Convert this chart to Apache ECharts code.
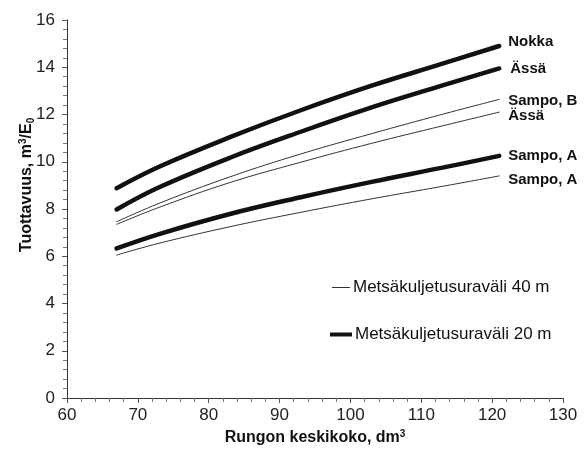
<!DOCTYPE html>
<html>
<head>
<meta charset="utf-8">
<script src="https://cdn.jsdelivr.net/npm/echarts@6/dist/echarts.min.js"></script>
<style>
  html, body { margin: 0; padding: 0; background: #fff; }
  #chart { width: 586px; height: 457px; }
</style>
</head>
<body>
<div id="chart"></div>
<script>
// rungon keskikoko (dm3) and tuottavuus
const xVals = [67, 73, 83, 93, 103, 113, 121];
const nokka20 = [8.88, 9.79, 11.04, 12.18, 13.22, 14.15, 14.9];
const assa20 = [7.98, 8.92, 10.17, 11.27, 12.3, 13.23, 13.95];
const sampoB40 = [7.46, 8.24, 9.36, 10.33, 11.19, 12.01, 12.64];
const assa40 = [7.35, 8.07, 9.12, 9.98, 10.78, 11.52, 12.1];
const sampoA20 = [6.33, 6.94, 7.79, 8.5, 9.15, 9.75, 10.25];
const sampoA40 = [6.05, 6.55, 7.25, 7.86, 8.43, 8.96, 9.4];

const name40 = "Metsäkuljetusuraväli 40 m";
const name20 = "Metsäkuljetusuraväli 20 m";
const fontFam = "Arial, 'Liberation Sans', sans-serif";

function pairs(ys) {
  return xVals.map((x, i) => [x, ys[i]]);
}

function curve(name, ys, label, thick, offset) {
  return {
    name: name,
    type: "line",
    data: pairs(ys),
    smooth: 0.4,
    symbol: "none",
    lineStyle: { color: thick ? "#111" : "#333", width: thick ? 4.5 : 1, cap: "round" },
    itemStyle: { color: thick ? "#111" : "#333" },
    endLabel: {
      show: true,
      formatter: label,
      distance: 9,
      offset: offset,
      color: "#111",
      fontWeight: "bold",
      fontSize: 15,
      fontFamily: fontFam,
    },
    emphasis: { disabled: true },
    z: thick ? 3 : 2,
  };
}

function legendBox(name, left, top, h, w) {
  return {
    orient: "vertical",
    left: left,
    top: top,
    padding: 0,
    icon: "rect",
    itemWidth: w,
    itemHeight: h,
    data: [name],
    textStyle: { fontSize: 17, color: "#111", fontFamily: fontFam, padding: [0, 0, 0, -2] },
  };
}

let myChart = echarts.init(document.getElementById("chart"));
let option = {
  backgroundColor: "#fff",
  animation: false,
  textStyle: { fontFamily: fontFam },
  grid: { left: 67, right: 23, top: 20, bottom: 59 },
  legend: [legendBox(name40, 332, 279, 1, 18), legendBox(name20, 330, 326, 4, 22)],
  xAxis: {
    type: "value",
    min: 60,
    max: 130,
    interval: 10,
    name: "Rungon keskikoko, dm{sup|3}",
    nameLocation: "middle",
    nameGap: 31,
    nameTextStyle: {
      fontSize: 16,
      fontWeight: "bold",
      color: "#111",
      rich: { sup: { fontSize: 10, fontWeight: "bold", verticalAlign: "top", padding: [0, 0, 8, 0] } },
    },
    axisLine: { lineStyle: { color: "#333", width: 1 } },
    axisTick: { show: true, inside: false, length: 5, lineStyle: { color: "#555" } },
    minorTick: { show: true, splitNumber: 5, length: 4, lineStyle: { color: "#777" } },
    axisLabel: { fontSize: 17, color: "#222", margin: 9 },
    splitLine: { show: false },
  },
  yAxis: {
    type: "value",
    min: 0,
    max: 16,
    interval: 2,
    name: "Tuottavuus, m{sup|3}/E{sub|0}",
    nameLocation: "middle",
    nameGap: 31,
    nameMoveOverlap: false,
    nameTextStyle: {
      fontSize: 16,
      fontWeight: "bold",
      color: "#111",
      padding: [0, 0, 0, 48],
      rich: {
        sup: { fontSize: 10, fontWeight: "bold", verticalAlign: "top", padding: [0, 0, 8, 0] },
        sub: { fontSize: 10, fontWeight: "bold", verticalAlign: "bottom", padding: [6, 0, 0, 0] },
      },
    },
    axisLine: { show: true, lineStyle: { color: "#333", width: 1 } },
    axisTick: { show: true, inside: false, length: 5, lineStyle: { color: "#555" } },
    minorTick: { show: true, splitNumber: 5, length: 4, lineStyle: { color: "#777" } },
    axisLabel: { fontSize: 17, color: "#222", margin: 12 },
    splitLine: { show: false },
  },
  series: [
    curve(name20, nokka20, "Nokka", true, [0, -4]),
    curve(name20, assa20, "Ässä", true, [2, 0]),
    curve(name40, sampoB40, "Sampo, B", false, [0, 1]),
    curve(name40, assa40, "Ässä", false, [0, 4]),
    curve(name20, sampoA20, "Sampo, A", true, [0, 0]),
    curve(name40, sampoA40, "Sampo, A", false, [0, 4]),
  ],
};
option && myChart.setOption(option);
</script>
</body>
</html>
